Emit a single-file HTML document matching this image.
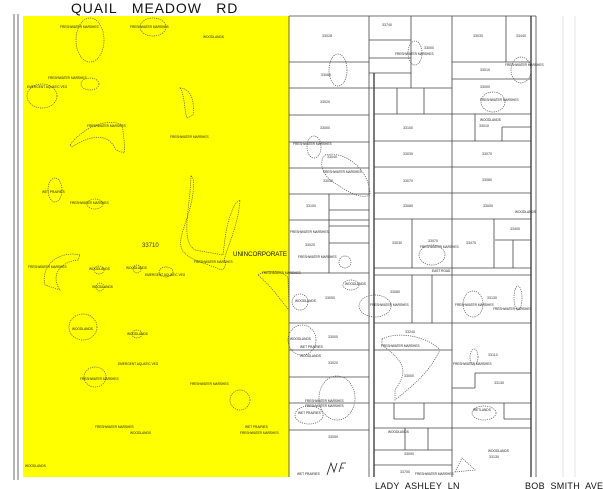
<!DOCTYPE html>
<html><head><meta charset="utf-8"><style>
html,body{margin:0;padding:0;background:#fff;width:603px;height:489px;overflow:hidden}
svg{display:block}
.t{font-family:"Liberation Sans",sans-serif;font-size:3.2px;fill:#222}
.n{font-family:"Liberation Sans",sans-serif;font-size:3.6px;fill:#333}
.d{fill:none;stroke:#555;stroke-width:0.7;stroke-dasharray:1.2 1}
.l{stroke:#444;stroke-width:0.8}
.L{stroke:#222;stroke-width:1.2}
</style></head><body>
<svg width="603" height="489" viewBox="0 0 603 489" xmlns="http://www.w3.org/2000/svg">
<rect x="23" y="16" width="266" height="461" fill="#ffff00"/>
<line class="l" x1="14" y1="14" x2="14" y2="480"/>
<line class="l" x1="18" y1="14" x2="18" y2="480"/>
<line class="l" x1="289" y1="16" x2="289" y2="477"/>
<line class="l" x1="369" y1="16" x2="369" y2="477"/>
<line class="L" x1="374" y1="73" x2="374" y2="477"/>
<line class="l" x1="452" y1="16" x2="452" y2="477"/>
<line class="L" x1="531" y1="16" x2="531" y2="477"/>
<line class="l" x1="536" y1="16" x2="536" y2="477"/>
<line stroke="#ddd" stroke-width="0.8" x1="563" y1="16" x2="563" y2="477"/>
<line stroke="#ddd" stroke-width="0.8" x1="575" y1="16" x2="575" y2="477"/>
<line class="l" x1="289" y1="16" x2="536" y2="16"/>
<g class="l">
<line x1="289" y1="62" x2="369" y2="62"/><line x1="289" y1="88" x2="369" y2="88"/>
<line x1="289" y1="115" x2="369" y2="115"/><line x1="289" y1="142" x2="369" y2="142"/>
<line x1="289" y1="168" x2="369" y2="168"/><line x1="289" y1="194" x2="369" y2="194"/>
<line x1="289" y1="220" x2="369" y2="220"/><line x1="289" y1="273" x2="369" y2="273"/>
<line x1="289" y1="323" x2="369" y2="323"/><line x1="289" y1="350" x2="369" y2="350"/>
<line x1="289" y1="377" x2="369" y2="377"/><line x1="289" y1="403" x2="369" y2="403"/>
<line x1="289" y1="430" x2="369" y2="430"/>
<line x1="369" y1="40" x2="411" y2="40"/><line x1="369" y1="58" x2="411" y2="58"/>
<line x1="369" y1="73" x2="411" y2="73"/><line x1="411" y1="16" x2="411" y2="88"/>
<line x1="369" y1="88" x2="452" y2="88"/><line x1="397" y1="88" x2="397" y2="114"/>
<line x1="424" y1="88" x2="424" y2="114"/>
<line x1="374" y1="114" x2="531" y2="114"/><line x1="374" y1="141" x2="531" y2="141"/>
<line x1="374" y1="167" x2="531" y2="167"/><line x1="374" y1="193" x2="531" y2="193"/>
<line x1="374" y1="219" x2="531" y2="219"/>
<line x1="452" y1="62" x2="531" y2="62"/><line x1="452" y1="79" x2="531" y2="79"/>
<line x1="506" y1="16" x2="506" y2="62"/><line x1="475" y1="114" x2="475" y2="141"/>
<line x1="502" y1="127" x2="531" y2="127"/><line x1="502" y1="127" x2="502" y2="141"/>
<line x1="329" y1="194" x2="329" y2="273"/><line x1="329" y1="210" x2="369" y2="210"/>
<line x1="329" y1="226" x2="369" y2="226"/><line x1="329" y1="243" x2="369" y2="243"/>
<line x1="412" y1="219" x2="412" y2="268"/><line x1="494" y1="219" x2="494" y2="268"/>
<line x1="495" y1="240" x2="531" y2="240"/><line x1="513" y1="240" x2="513" y2="268"/>
<line x1="374" y1="268" x2="531" y2="268"/><line x1="374" y1="275" x2="531" y2="275"/>
<line x1="374" y1="323" x2="531" y2="323"/><line x1="412" y1="275" x2="412" y2="323"/>
<line x1="432" y1="275" x2="432" y2="323"/>
<line x1="374" y1="350" x2="452" y2="350"/><line x1="475" y1="373" x2="531" y2="373"/>
<line x1="475" y1="373" x2="475" y2="388"/><line x1="452" y1="388" x2="475" y2="388"/>
<line x1="374" y1="403" x2="531" y2="403"/><line x1="374" y1="428" x2="531" y2="428"/>
<line x1="374" y1="450" x2="452" y2="450"/><line x1="374" y1="465" x2="452" y2="465"/>
<line x1="394" y1="403" x2="394" y2="419"/><line x1="424" y1="403" x2="424" y2="419"/>
<line x1="394" y1="419" x2="424" y2="419"/><line x1="504" y1="403" x2="504" y2="419"/>
<line x1="504" y1="419" x2="531" y2="419"/>
<line x1="405" y1="428" x2="405" y2="450"/><line x1="428" y1="428" x2="428" y2="450"/>
</g>
<g class="d">
<ellipse cx="90" cy="40" rx="14" ry="22"/><ellipse cx="153" cy="27" rx="13" ry="9"/>
<ellipse cx="42" cy="96" rx="15" ry="12"/><ellipse cx="90" cy="84" rx="9" ry="6"/>
<path d="M180 88 C190 88 195 100 193 115 L187 118 C184 110 185 95 180 88 Z"/>
<path d="M70 145 C85 125 110 118 122 125 C124 135 125 150 124 153 L116 150 C108 132 90 135 72 147Z"/>
<ellipse cx="55" cy="190" rx="7" ry="12"/><ellipse cx="95" cy="204" rx="8" ry="5"/>
<path d="M191 176 C196 178 193 200 188 215 C180 240 174 250 195 260 L222 270 C226 268 226 262 224 260 C230 240 238 225 240 200 L236 203 C226 220 225 240 223 255 L195 250 C180 240 190 210 191 176Z"/>
<path d="M80 255 C60 250 40 265 45 285 L60 290 C50 275 60 262 78 260Z"/>
<ellipse cx="99" cy="270" rx="5" ry="4"/><ellipse cx="137" cy="269" rx="4" ry="4"/>
<ellipse cx="166" cy="272" rx="7" ry="5"/><ellipse cx="100" cy="287" rx="4" ry="4"/>
<ellipse cx="83" cy="327" rx="14" ry="13"/><ellipse cx="137" cy="334" rx="5" ry="4"/>
<path d="M258 275 C270 268 285 272 288 278 L289 310 C280 300 275 290 258 275Z"/>
<ellipse cx="95" cy="377" rx="11" ry="10"/><ellipse cx="240" cy="400" rx="10" ry="10"/>
<ellipse cx="338" cy="70" rx="9" ry="16"/><ellipse cx="415" cy="53" rx="7" ry="12"/>
<ellipse cx="493" cy="102" rx="12" ry="10"/><ellipse cx="521" cy="70" rx="10" ry="13"/>
<ellipse cx="314" cy="147" rx="7" ry="11"/><path d="M325 155 C345 150 370 170 370 195 C360 200 345 190 330 180 C320 170 320 160 325 155Z"/>
<ellipse cx="432" cy="255" rx="13" ry="10"/><ellipse cx="345" cy="262" rx="6" ry="6"/>
<ellipse cx="375" cy="306" rx="16" ry="11"/><ellipse cx="473" cy="304" rx="10" ry="13"/>
<ellipse cx="518" cy="298" rx="4" ry="12"/><ellipse cx="351" cy="285" rx="8" ry="5"/>
<ellipse cx="300" cy="302" rx="8" ry="8"/>
<path d="M382 339 C400 330 430 338 440 350 C430 370 420 380 395 400 L395 390 C405 375 410 365 382 345Z"/>
<ellipse cx="302" cy="340" rx="14" ry="15"/><ellipse cx="337" cy="398" rx="18" ry="22"/>
<ellipse cx="309" cy="415" rx="14" ry="9"/><ellipse cx="474" cy="357" rx="4" ry="8"/>
<ellipse cx="484" cy="413" rx="12" ry="7"/><path d="M455 472 L462 458 L475 470Z"/>
</g>
<text x="71" y="13" font-family="Liberation Sans,sans-serif" font-size="14" fill="#111" letter-spacing="0.9">QUAIL&#160;&#160;&#160;MEADOW&#160;&#160;&#160;RD</text>
<text x="375" y="489" font-family="Liberation Sans,sans-serif" font-size="9" fill="#111" letter-spacing="0.3">LADY&#160; ASHLEY&#160; LN</text>
<text x="525" y="489" font-family="Liberation Sans,sans-serif" font-size="9" fill="#111" letter-spacing="0.3">BOB&#160; SMITH&#160; AVE</text>
<text x="142" y="247" font-family="Liberation Sans,sans-serif" font-size="6" fill="#333">33710</text>
<text x="233" y="256" font-family="Liberation Sans,sans-serif" font-size="6.2" fill="#111">UNINCORPORATE</text>
<g class="t">
<text x="60" y="28">FRESHWATER MARSHES</text><text x="130" y="28">FRESHWATER MARSHES</text>
<text x="203" y="38">WOODLANDS</text><text x="48" y="79">FRESHWATER MARSHES</text>
<text x="27" y="88">EMERGENT AQUATIC VEG</text><text x="87" y="127">FRESHWATER MARSHES</text>
<text x="170" y="138">FRESHWATER MARSHES</text><text x="42" y="193">WET PRAIRIES</text>
<text x="70" y="204">FRESHWATER MARSHES</text><text x="28" y="268">FRESHWATER MARSHES</text>
<text x="89" y="270">WOODLANDS</text><text x="126" y="269">WOODLANDS</text>
<text x="145" y="276">EMERGENT AQUATIC VEG</text><text x="194" y="263">FRESHWATER MARSHES</text>
<text x="92" y="288">WOODLANDS</text><text x="72" y="330">WOODLANDS</text>
<text x="127" y="335">WOODLANDS</text><text x="118" y="365">EMERGENT AQUATIC VEG</text>
<text x="80" y="380">FRESHWATER MARSHES</text><text x="190" y="385">FRESHWATER MARSHES</text>
<text x="95" y="428">FRESHWATER MARSHES</text><text x="130" y="434">WOODLANDS</text>
<text x="245" y="428">WET PRAIRIES</text><text x="240" y="434">FRESHWATER MARSHES</text>
<text x="25" y="467">WOODLANDS</text><text x="262" y="274">FRESHWATER MARSHES</text>
<text x="395" y="55">FRESHWATER MARSHES</text><text x="505" y="66">FRESHWATER MARSHES</text>
<text x="480" y="101">FRESHWATER MARSHES</text><text x="480" y="121">WOODLANDS</text>
<text x="293" y="145">FRESHWATER MARSHES</text><text x="323" y="173">FRESHWATER MARSHES</text>
<text x="515" y="213">WOODLANDS</text><text x="290" y="233">FRESHWATER MARSHES</text>
<text x="420" y="248">FRESHWATER MARSHES</text><text x="298" y="258">FRESHWATER MARSHES</text>
<text x="345" y="285">WOODLANDS</text><text x="295" y="302">WOODLANDS</text>
<text x="370" y="306">FRESHWATER MARSHES</text><text x="455" y="306">FRESHWATER MARSHES</text>
<text x="493" y="310">FRESHWATER MARSHES</text><text x="290" y="340">WOODLANDS</text>
<text x="300" y="348">WET PRAIRIES</text><text x="300" y="357">WOODLANDS</text>
<text x="381" y="347">FRESHWATER MARSHES</text><text x="453" y="365">FRESHWATER MARSHES</text>
<text x="305" y="402">FRESHWATER MARSHES</text><text x="305" y="407">FRESHWATER MARSHES</text>
<text x="298" y="414">WET PRAIRIES</text><text x="473" y="411">WETLANDS</text>
<text x="388" y="433">WOODLANDS</text><text x="488" y="452">WOODLANDS</text>
<text x="297" y="475">WET PRAIRIES</text><text x="415" y="475">FRESHWATER MARSHES</text>
<text x="432" y="272">EAST ROAD</text>
</g>
<g class="n">
<text x="322" y="37">33028</text><text x="382" y="26">33740</text><text x="424" y="49">33000</text>
<text x="473" y="37">33030</text><text x="516" y="37">33440</text><text x="321" y="76">33080</text>
<text x="480" y="71">33010</text><text x="480" y="88">33000</text><text x="320" y="103">33020</text>
<text x="320" y="129">33000</text><text x="403" y="129">33100</text><text x="479" y="127">33010</text>
<text x="327" y="158">33040</text><text x="323" y="182">33030</text><text x="403" y="155">33030</text>
<text x="482" y="155">33070</text><text x="403" y="182">33070</text><text x="482" y="181">33080</text>
<text x="306" y="207">33100</text><text x="403" y="207">33080</text><text x="483" y="207">33000</text>
<text x="305" y="246">33020</text><text x="392" y="244">33030</text><text x="428" y="242">33070</text>
<text x="466" y="244">33470</text><text x="510" y="230">33400</text><text x="325" y="299">33050</text>
<text x="390" y="293">33080</text><text x="487" y="299">33130</text><text x="405" y="333">33240</text>
<text x="328" y="338">33000</text><text x="328" y="364">33020</text><text x="488" y="356">33110</text>
<text x="404" y="377">33000</text><text x="494" y="384">33130</text><text x="328" y="438">33050</text>
<text x="404" y="455">33090</text><text x="489" y="458">33130</text><text x="400" y="473">33700</text>
</g>
<path d="M327 475 L331 463 L334 472 L337 463 M339 472 L342 463 L346 463 M340 468 L344 468" stroke="#222" stroke-width="0.8" fill="none"/>
</svg>
</body></html>
